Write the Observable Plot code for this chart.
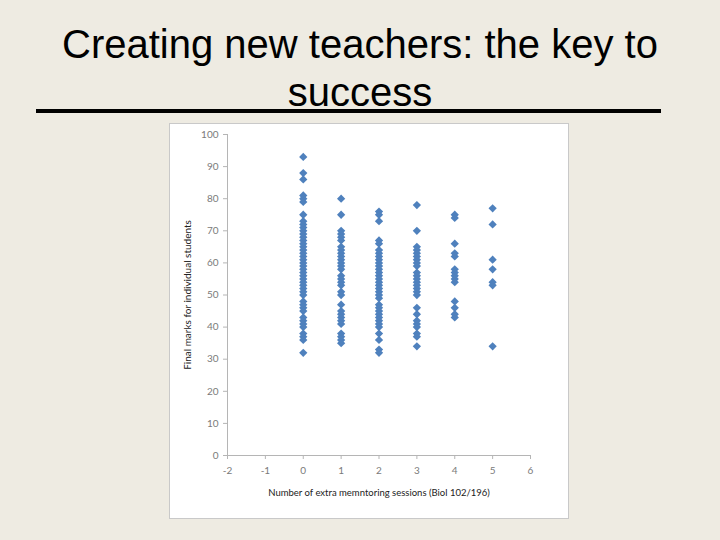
<!DOCTYPE html>
<html>
<head>
<meta charset="utf-8">
<script src="https://cdn.jsdelivr.net/npm/d3@7"></script>
<script src="https://cdn.jsdelivr.net/npm/@observablehq/plot@0.6"></script>
<style>
  html, body { margin: 0; padding: 0; }
  body { width: 720px; height: 540px; background: #EEEBE2; position: relative; overflow: hidden; }
  #title { position: absolute; left: 0; top: 20px; width: 720px; text-align: center;
    font-family: "Liberation Sans", Arial, sans-serif; font-size: 40px; line-height: 48px; color: #000; }
  #rule { position: absolute; left: 36px; top: 109px; width: 625px; height: 4px; background: #000; }
  #box { position: absolute; left: 169px; top: 123px; width: 400px; height: 396px; box-sizing: border-box;
    background: #fff; border: 1px solid #c9c9c9; }
  #chart { position: absolute; left: 0; top: 0; }
</style>
</head>
<body>
<div id="title">Creating new teachers: the key to<br>success</div>
<div id="rule"></div>
<div id="box"><div id="chart"></div></div>
<script>
// Data (final marks per student, grouped by number of extra sessions)
const sessionCounts = [0, 1, 2, 3, 4, 5];
const marks0 = [93, 88, 86, 81, 80, 79, 75, 73, 72, 71, 70, 69, 68, 67, 66, 65, 64, 63, 62, 61, 60, 59, 58, 57, 56, 55, 54, 53, 52, 51, 50, 48, 47, 46, 45, 43, 42, 41, 40, 38, 37, 36, 32];
const marks1 = [80, 75, 70, 69, 68, 67, 65, 64, 63, 62, 61, 60, 59, 58, 56, 55, 54, 53, 51, 50, 47, 45, 44, 43, 42, 41, 38, 37, 36, 35];
const marks2 = [76, 75, 73, 67, 66, 64, 63, 62, 61, 60, 59, 58, 57, 56, 55, 54, 53, 52, 51, 50, 49, 47, 46, 45, 44, 43, 42, 41, 40, 38, 36, 33, 32];
const marks3 = [78, 70, 65, 64, 63, 62, 61, 60, 59, 57, 56, 55, 54, 53, 52, 51, 50, 46, 44, 42, 41, 40, 38, 37, 34];
const marks4 = [75, 74, 66, 63, 62, 58, 57, 56, 55, 54, 48, 46, 44, 43];
const marks5 = [77, 72, 61, 58, 54, 53, 34];
const xTicks = [-2, -1, 0, 1, 2, 3, 4, 5, 6];
const yTicks = [0, 10, 20, 30, 40, 50, 60, 70, 80, 90, 100];
const xTitle = "Number of extra memntoring sessions (Biol 102/196)";
const yTitle = "Final marks for individual students";

const groups = [marks0, marks1, marks2, marks3, marks4, marks5];
const table = sessionCounts.flatMap((s, i) => groups[i].map(m => ({sessions: s, mark: m})));

const axisColor = "#b5b5b5";
const tickText = "#7a7a7a";

const chart = Plot.plot({
  width: 398,
  height: 394,
  marginLeft: 57,
  marginRight: 38,
  marginTop: 10,
  marginBottom: 63,
  style: { fontFamily: "Lato, 'Open Sans', sans-serif", background: "transparent", overflow: "visible" },
  x: { domain: [-2, 6] },
  y: { domain: [0, 100] },
  marks: [
    Plot.ruleX([-2], { stroke: axisColor, strokeWidth: 1 }),
    Plot.ruleY([0], { stroke: axisColor, strokeWidth: 1 }),
    Plot.axisX({ ticks: xTicks, tickFormat: d => String(d), tickSize: 4, tickPadding: 7, stroke: axisColor,
      color: tickText, fontSize: 10, label: null }),
    Plot.axisY({ ticks: yTicks, tickFormat: d => String(d), tickSize: 4, tickPadding: 5, stroke: axisColor,
      color: tickText, fontSize: 10, label: null }),
    Plot.axisX({ ticks: [], label: xTitle, labelAnchor: "center", labelOffset: 40, labelArrow: "none",
      color: "#222", fontSize: 9.5, tickSize: 0 }),
    Plot.axisY({ ticks: [], label: yTitle, labelAnchor: "center", labelOffset: 44, labelArrow: "none",
      color: "#222", fontSize: 10, tickSize: 0 }),
    Plot.dot(table, { x: "sessions", y: "mark", symbol: "square", rotate: 45, r: 3.3, fill: "#4F81BD", stroke: "none" })
  ]
});
document.getElementById("chart").appendChild(chart);
</script>
</body>
</html>
